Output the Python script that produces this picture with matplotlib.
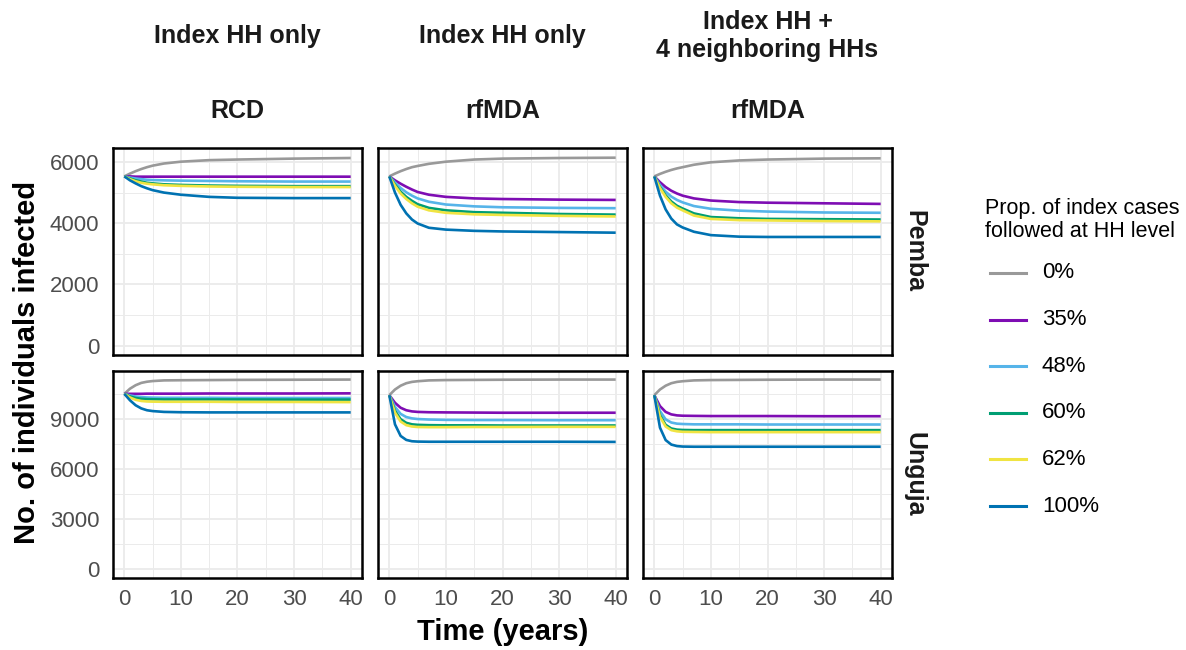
import matplotlib
matplotlib.use("Agg")
import matplotlib.pyplot as plt
from matplotlib.lines import Line2D
from matplotlib.ticker import MultipleLocator

plt.rcParams["font.family"] = ["Liberation Sans", "DejaVu Sans"]

years = [0, 1, 2, 3, 4, 5, 7, 10, 15, 20, 30, 40]

levels = ["0%", "35%", "48%", "60%", "62%", "100%"]
colors = ["#999999", "#7E0DB3", "#56B4E9", "#009E73", "#F0E442", "#0072B2"]

col_top = ["Index HH only", "Index HH only", "Index HH +\n4 neighboring HHs"]
col_sub = ["RCD", "rfMDA", "rfMDA"]
rows = ["Pemba", "Unguja"]

# Pemba
pemba_rcd = [
    [5530, 5620, 5700, 5770, 5830, 5880, 5950, 6010, 6060, 6080, 6110, 6130],
    [5530, 5530, 5520, 5520, 5520, 5520, 5520, 5520, 5520, 5520, 5520, 5520],
    [5530, 5490, 5460, 5440, 5420, 5410, 5400, 5390, 5380, 5370, 5360, 5360],
    [5530, 5460, 5400, 5360, 5320, 5300, 5270, 5250, 5230, 5220, 5210, 5210],
    [5530, 5440, 5370, 5320, 5290, 5270, 5240, 5220, 5200, 5190, 5180, 5180],
    [5530, 5400, 5300, 5210, 5140, 5080, 5000, 4930, 4860, 4830, 4820, 4820],
]
pemba_rfmda = [
    [5530, 5620, 5700, 5770, 5830, 5870, 5940, 6010, 6080, 6110, 6130, 6140],
    [5530, 5400, 5290, 5190, 5100, 5020, 4930, 4860, 4810, 4790, 4770, 4760],
    [5530, 5330, 5150, 5010, 4900, 4810, 4700, 4610, 4550, 4520, 4500, 4490],
    [5530, 5260, 5030, 4860, 4730, 4620, 4500, 4420, 4360, 4340, 4300, 4280],
    [5530, 5220, 4970, 4790, 4650, 4540, 4420, 4340, 4290, 4270, 4240, 4220],
    [5530, 5000, 4600, 4320, 4120, 3990, 3850, 3790, 3750, 3730, 3710, 3690],
]
pemba_rfmda_nb = [
    [5530, 5610, 5680, 5740, 5790, 5830, 5910, 5990, 6050, 6080, 6110, 6120],
    [5530, 5340, 5180, 5060, 4970, 4900, 4810, 4740, 4690, 4670, 4650, 4630],
    [5530, 5250, 5030, 4870, 4760, 4680, 4560, 4470, 4410, 4380, 4350, 4340],
    [5530, 5180, 4910, 4710, 4570, 4480, 4320, 4200, 4160, 4140, 4130, 4120],
    [5530, 5150, 4860, 4650, 4510, 4420, 4250, 4140, 4100, 4090, 4070, 4060],
    [5530, 4900, 4450, 4150, 3960, 3860, 3720, 3610, 3560, 3550, 3550, 3550],
]

# Unguja
unguja_rcd = [
    [10540, 10850, 11060, 11200, 11270, 11310, 11350, 11360, 11370, 11380, 11390, 11400],
    [10540, 10540, 10540, 10540, 10550, 10550, 10550, 10550, 10560, 10560, 10560, 10570],
    [10540, 10440, 10380, 10340, 10320, 10310, 10300, 10300, 10300, 10290, 10290, 10290],
    [10540, 10380, 10290, 10240, 10220, 10210, 10200, 10200, 10200, 10200, 10190, 10190],
    [10540, 10320, 10180, 10110, 10080, 10070, 10060, 10060, 10060, 10050, 10050, 10040],
    [10540, 10150, 9850, 9660, 9550, 9500, 9450, 9430, 9420, 9420, 9420, 9420],
]
unguja_rfmda = [
    [10460, 10800, 11030, 11180, 11260, 11300, 11350, 11370, 11380, 11390, 11400, 11400],
    [10460, 10000, 9700, 9550, 9480, 9450, 9430, 9420, 9410, 9400, 9400, 9400],
    [10460, 9750, 9330, 9140, 9060, 9020, 8990, 8970, 8960, 8960, 8950, 8950],
    [10460, 9520, 9010, 8790, 8700, 8670, 8650, 8640, 8640, 8630, 8630, 8630],
    [10460, 9400, 8870, 8650, 8570, 8540, 8530, 8530, 8540, 8540, 8550, 8550],
    [10460, 8700, 8000, 7760, 7680, 7660, 7650, 7650, 7650, 7650, 7650, 7640],
]
unguja_rfmda_nb = [
    [10460, 10800, 11030, 11180, 11260, 11300, 11350, 11370, 11380, 11390, 11400, 11400],
    [10460, 9800, 9450, 9300, 9240, 9220, 9210, 9200, 9200, 9200, 9190, 9190],
    [10460, 9500, 9000, 8810, 8740, 8720, 8700, 8700, 8700, 8690, 8690, 8690],
    [10460, 9250, 8670, 8450, 8380, 8360, 8350, 8350, 8350, 8350, 8350, 8350],
    [10460, 9150, 8570, 8350, 8280, 8250, 8240, 8230, 8230, 8230, 8230, 8230],
    [10460, 8500, 7750, 7480, 7390, 7360, 7350, 7350, 7350, 7350, 7350, 7350],
]

panels = [
    [pemba_rcd, pemba_rfmda, pemba_rfmda_nb],
    [unguja_rcd, unguja_rfmda, unguja_rfmda_nb],
]
y_ticks = [[0, 2000, 4000, 6000], [0, 3000, 6000, 9000]]
y_minor = [1000, 1500]
y_lims = [(-307, 6457), (-567, 11917)]

W, H = 1186, 650
fig = plt.figure(figsize=(W / 100, H / 100), dpi=100)

col_x = [113, 378, 643]
row_y = [148, 371]
pw, ph = 249, 207

tick_col = "#4D4D4D"
for r in range(2):
    for c in range(3):
        x0, y0 = col_x[c], row_y[r]
        ax = fig.add_axes([x0 / W, 1 - (y0 + ph) / H, pw / W, ph / H])
        for series, col in zip(panels[r][c], colors):
            ax.plot(years, series, color=col, lw=1.9, solid_capstyle="butt")
        ax.set_xlim(-2, 42)
        ax.set_ylim(*y_lims[r])
        ax.set_xticks([0, 10, 20, 30, 40])
        ax.xaxis.set_minor_locator(MultipleLocator(5))
        ax.set_yticks(y_ticks[r])
        ax.yaxis.set_minor_locator(MultipleLocator(y_minor[r]))
        ax.grid(True, which="major", color="#EBEBEB", lw=1.3)
        ax.grid(True, which="minor", color="#EBEBEB", lw=0.7)
        ax.set_axisbelow(True)
        ax.tick_params(which="both", length=0, labelsize=16, colors=tick_col)
        ax.tick_params(axis="y", pad=10)
        ax.tick_params(axis="x", pad=8)
        ax.tick_params(which="minor", labelleft=False, labelbottom=False)
        if c > 0:
            ax.set_yticklabels([])
        if r == 0:
            ax.set_xticklabels([])
        for s in ax.spines.values():
            s.set_color("black")
            s.set_linewidth(1.8)

# column strips
for c in range(3):
    cx = (col_x[c] + pw / 2) / W
    fig.text(cx, 1 - 36 / H, col_top[c], ha="center", va="center",
             fontsize=18, fontweight="bold", color="#1A1A1A", linespacing=1.2)
    fig.text(cx, 1 - 111 / H, col_sub[c], ha="center", va="center",
             fontsize=18, fontweight="bold", color="#1A1A1A")

# row strips
for r in range(2):
    cy = 1 - (row_y[r] + ph / 2) / H
    fig.text(914 / W, cy, rows[r], ha="center", va="center", rotation=-90,
             fontsize=18, fontweight="bold", color="#1A1A1A")

fig.text(27 / W, 1 - 362 / H, "No. of individuals infected", rotation=90,
         ha="center", va="center", fontsize=21, fontweight="bold")
fig.text(503 / W, 1 - 632 / H, "Time (years)", ha="center", va="center",
         fontsize=21, fontweight="bold")

# legend
fig.text(985 / W, 1 - 220 / H, "Prop. of index cases\nfollowed at HH level",
         ha="left", va="center", fontsize=15.5, linespacing=1.1)
for i, (lab, col) in enumerate(zip(levels, colors)):
    yy = 1 - (273 + i * 46.6) / H
    fig.add_artist(Line2D([990 / W, 1026 / W], [yy, yy], color=col, lw=2.2,
                          transform=fig.transFigure))
    fig.text(1042 / W, yy, lab, ha="left", va="center", fontsize=16)

fig.savefig("out.png", dpi=100)
